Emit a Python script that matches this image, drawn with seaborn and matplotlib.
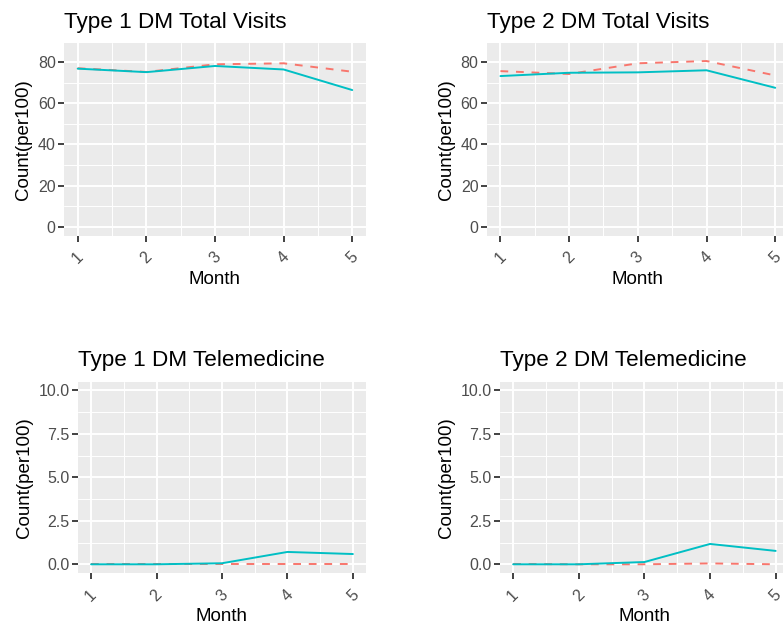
import numpy as np
import pandas as pd
import matplotlib
matplotlib.use("Agg")
import matplotlib.pyplot as plt
from matplotlib.ticker import MultipleLocator, FormatStrFormatter
import seaborn as sns

months = [1, 2, 3, 4, 5]
series_names = ["Expected", "Observed"]

t1_total_exp = [77.0, 75.2, 78.9, 79.4, 75.3]
t1_total_obs = [76.8, 75.1, 78.1, 76.4, 66.4]
t2_total_exp = [75.6, 74.2, 79.4, 80.5, 73.5]
t2_total_obs = [73.2, 74.8, 75.0, 76.0, 67.5]
t1_tele_exp = [0.0, 0.0, 0.0, 0.0, 0.0]
t1_tele_obs = [0.0, 0.0, 0.06, 0.71, 0.59]
t2_tele_exp = [0.02, 0.0, 0.0, 0.05, 0.0]
t2_tele_obs = [0.0, 0.0, 0.13, 1.17, 0.77]

titles = ["Type 1 DM Total Visits", "Type 2 DM Total Visits",
          "Type 1 DM Telemedicine", "Type 2 DM Telemedicine"]


def make_df(exp, obs):
    return pd.DataFrame({
        "Month": months * 2,
        "Count": exp + obs,
        "group": [series_names[0]] * 5 + [series_names[1]] * 5,
    })


sns.set_theme(style="darkgrid", rc={
    "axes.facecolor": "#EBEBEB",
    "grid.color": "white",
    "axes.edgecolor": "white",
})
plt.rcParams["font.family"] = ["Liberation Sans", "DejaVu Sans"]

fig = plt.figure(figsize=(7.83, 6.28), dpi=100)

# [left, bottom, width, height] in figure fractions, right column runs past the edge
positions = [
    [0.0817, 0.625, 0.3857, 0.3065],
    [0.6216, 0.625, 0.3860, 0.3065],
    [0.0996, 0.0876, 0.3678, 0.3046],
    [0.6386, 0.0876, 0.3688, 0.3046],
]
data = [(t1_total_exp, t1_total_obs), (t2_total_exp, t2_total_obs),
        (t1_tele_exp, t1_tele_obs), (t2_tele_exp, t2_tele_obs)]

palette = {series_names[0]: "#F8766D", series_names[1]: "#00BFC4"}
dashes = {series_names[0]: (4, 4), series_names[1]: ""}

for k in range(4):
    ax = fig.add_axes(positions[k])
    df = make_df(*data[k])
    sns.lineplot(data=df, x="Month", y="Count", hue="group", style="group",
                 palette=palette, dashes=dashes, linewidth=1.4,
                 legend=False, ax=ax)

    ax.set_xlim(0.8, 5.2)
    ax.xaxis.set_major_locator(MultipleLocator(1))
    ax.xaxis.set_minor_locator(MultipleLocator(0.5))
    if k < 2:
        ax.set_ylim(-4.25, 89.25)
        ax.yaxis.set_major_locator(MultipleLocator(20))
        ax.yaxis.set_minor_locator(MultipleLocator(10))
    else:
        ax.set_ylim(-0.5, 10.5)
        ax.yaxis.set_major_locator(MultipleLocator(2.5))
        ax.yaxis.set_minor_locator(MultipleLocator(1.25))
        ax.yaxis.set_major_formatter(FormatStrFormatter("%.1f"))

    ax.grid(which="major", color="white", linewidth=1.4)
    ax.grid(which="minor", color="white", linewidth=0.7)
    for s in ax.spines.values():
        s.set_visible(False)

    ax.tick_params(axis="both", which="major", length=4, width=1.3,
                   color="#333333", labelcolor="#4D4D4D", labelsize=11.5,
                   bottom=True, left=True)
    ax.tick_params(axis="y", which="major", pad=2)
    ax.tick_params(axis="x", which="major", pad=6)
    ax.tick_params(axis="both", which="minor", length=0)
    plt.setp(ax.get_xticklabels(), rotation=45)

    ax.set_title(titles[k], loc="left", fontsize=16.2, pad=11, color="black")
    ax.set_xlabel("Month", fontsize=13.5, labelpad=3, color="black")
    ax.set_ylabel("Count(per100)", fontsize=13.5, labelpad=4, color="black")

fig.savefig("out.png", dpi=100)
